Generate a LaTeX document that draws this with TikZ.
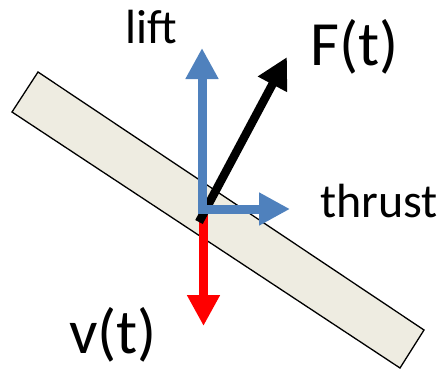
\documentclass[tikz,border=0pt]{standalone}
\usepackage{fontspec}
\setmainfont{Carlito}
\usepackage{tikz}
\usetikzlibrary{arrows.meta}
\definecolor{liftblue}{RGB}{79,129,189}
\definecolor{plate}{RGB}{238,236,225}

\begin{document}
\begin{tikzpicture}[x=1pt,y=-1pt,
		vec/.style={line width=9pt,-{Triangle[length=31pt,width=31pt]}},
		small/.style={font=\fontsize{48}{52}\selectfont,anchor=base west,inner sep=0pt},
		big/.style={font=\fontsize{63}{67}\selectfont,anchor=base west,inner sep=0pt}]
			\useasboundingbox (0,0) rectangle (443,370);
			\filldraw[fill=plate,draw=black,line width=1.3pt] (38,72) -- (424,330) -- (400,368) -- (12,112) -- cycle;
			\coordinate (o) at (202,209);
			\coordinate (fbase) at (199,222);
			\coordinate (vbase) at (203.5,212);
			\coordinate (lifttip) at (202,48);
			\coordinate (thrusttip) at (290,209);
			\coordinate (ftip) at (287,57);
			\coordinate (vtip) at (203.5,326);
			\draw[vec,red] (vbase) -- (vtip);
			\draw[vec,black,line width=8.5pt] (fbase) -- (ftip);
			\draw[liftblue,line width=9pt,miter limit=10,
				{Triangle[length=31pt,width=31pt]}-{Triangle[length=31pt,width=31pt]}] (lifttip) |- (thrusttip);
			\node[small] (lift) at (125,43) {lift};
			\node[big] (force) at (310,65) {F(t)};
			\node[small] (thrust) at (320,217) {thrust};
			\node[big] (vel) at (69,353) {v(t)};
		\end{tikzpicture}
\end{document}
